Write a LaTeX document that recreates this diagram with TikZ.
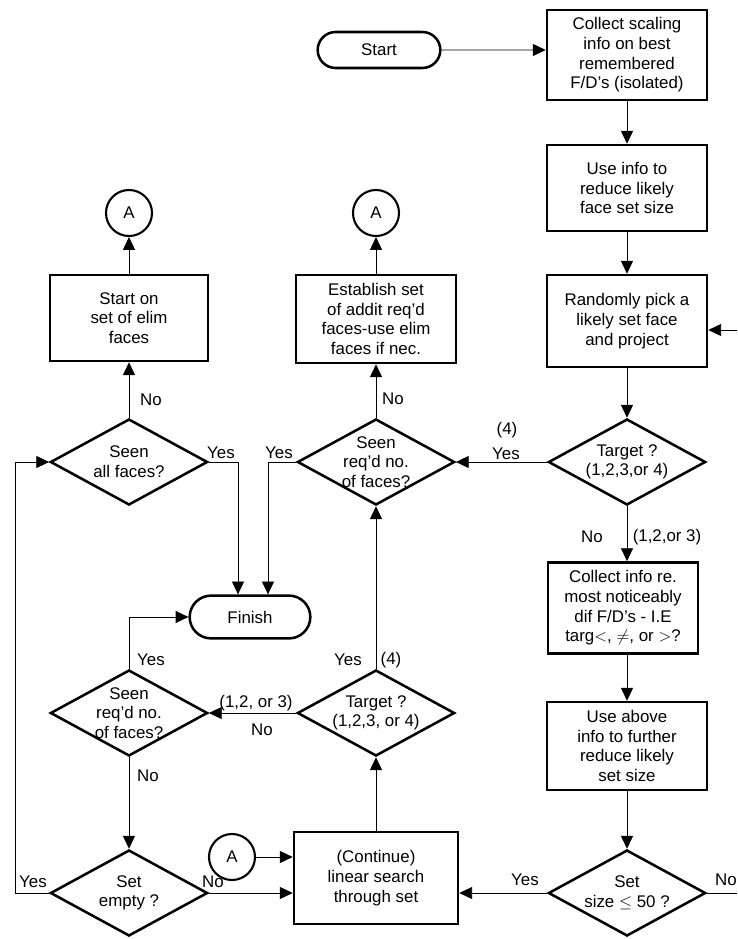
\documentclass[tikz,border=0pt]{standalone}
\usepackage{fontspec}
\setmainfont{Liberation Sans}
\usetikzlibrary{shapes.geometric,shapes.misc,arrows.meta}
\usetikzlibrary{positioning,calc}

\begin{document}
\begin{tikzpicture}[x=0.025cm, y=-0.025cm,
  font=\fontsize{12}{14}\selectfont,
  box/.style={draw, line width=1.8pt, align=center, minimum width=4cm, minimum height=2.2cm, inner sep=2pt},
  term/.style={draw, line width=1.8pt, rounded rectangle, minimum width=3.3cm, minimum height=0.9cm},
  decision/.style={draw, line width=1.8pt, diamond, inner sep=0pt, minimum width=3.93cm, minimum height=2.15cm},
  dtext/.style={align=center, inner sep=0pt},
  joint/.style={draw, circle, line width=1.5pt, minimum size=1.15cm, inner sep=0pt},
  conn/.style={draw, line width=0.6pt},
  flow/.style={conn, -{Triangle[length=3.2mm, width=3mm]}},
  lbl/.style={inner sep=0pt}]
\useasboundingbox (0,0) rectangle (737,939);

% right column
\node[term] (start) at (379,50) {Start};
\node[box, minimum height=2.25cm] (scaling) at (627,55) {Collect scaling\\info on best\\remembered\\F/D's (isolated)};
\node[box, minimum height=2.15cm] (useinfo) at (627,188) {Use info to\\reduce likely\\face set size};
\node[box, minimum height=2.3cm] (pick) at (627,321) {Randomly pick a\\likely set face\\and project};
\node[decision, label={[dtext]center:{Target ?\\(1,2,3,or 4)}}] (targetR) at (627,462) {};
\node[box, minimum width=3.75cm, minimum height=2.28cm] (collect) at (623,608) {Collect info re.\\most noticeably\\dif F/D's - I.E\\targ$<$, $\neq$, or $>$?};
\node[box] (useabove) at (627,746) {Use above\\info to further\\reduce likely\\set size};
\node[decision, label={[dtext]center:{Set\\size $\leq$ 50 ?}}] (setsize) at (627,893) {};

% middle column
\node[joint] (aMid) at (376,213) {A};
\node[box, minimum height=2.2cm] (establish) at (376,319) {Establish set\\of addit req'd\\faces-use elim\\faces if nec.};
\node[decision, label={[dtext]center:{Seen\\req'd no.\\of faces?}}] (seenR) at (376,462) {};
\node[term, minimum width=3.25cm, minimum height=1.07cm] (finish) at (250,617) {Finish};
\node[decision, label={[dtext]center:{Target ?\\(1,2,3, or 4)}}] (targetM) at (376,713) {};
\node[box, minimum width=4.1cm, minimum height=2.3cm] (continue) at (376,878) {(Continue)\\linear search\\through set};
\node[joint] (aLow) at (232,857) {A};

% left column
\node[joint] (aLeft) at (129,213) {A};
\node[box, minimum width=3.95cm, minimum height=2.15cm] (startelim) at (129,318) {Start on\\set of elim\\faces};
\node[decision, label={[dtext]center:{Seen\\all faces?}}] (seenall) at (129,462) {};
\node[decision, label={[dtext]center:{Seen\\req'd no.\\of faces?}}] (seenL) at (129,713) {};
\node[decision, label={[dtext]center:{Set\\empty ?}}] (setempty) at (129,893) {};

\coordinate (noIn) at (737,330);
\coordinate (noOut) at (737,893);
\coordinate (loop) at (15,893);

% connectors
\draw[flow] (start) -- (start -| scaling.west);
\draw[flow] (scaling) -- (scaling |- useinfo.north);
\draw[flow] (useinfo) -- (useinfo |- pick.north);
\draw[flow] (noIn) -- (noIn -| pick.east);
\draw[flow] (pick) -- (pick |- targetR.north);
\draw[flow] (targetR) -- (targetR |- collect.north);
\draw[flow] (useabove |- collect.south) -- (useabove |- useabove.north);
\draw[flow] (useabove) -- (useabove |- setsize.north);
\draw[flow] (setsize) -- (setsize -| continue.east);
\draw[conn] (setsize) -- (noOut);
\draw[flow] (targetR) -- (seenR);
\draw[flow] (seenR) -- (establish);
\draw[flow] (establish) -- (aMid);
\draw[flow] (seenR.west) -| ($(finish.north)+(18,0)$);
\draw[flow] (seenall) -- (startelim);
\draw[flow] (startelim) -- (aLeft);
\draw[flow] (seenall.east) -| ($(finish.north)+(-12,0)$);
\draw[flow] (continue) -- (targetM);
\draw[flow] (targetM) -- (seenR);
\draw[flow] (targetM) -- (seenL);
\draw[flow] (seenL.north) |- (finish.west);
\draw[flow] (seenL) -- (setempty);
\draw[flow] (setempty.west) -- (loop) |- (seenall.west);
\draw[flow] (setempty.east) -- (setempty.east -| continue.west);
\draw[flow] (aLow) -- (aLow -| continue.west);

% branch labels
\node[lbl] (noA) at (151,400) {No};
\node[lbl] (yesA) at (221,453) {Yes};
\node[lbl] (yesB) at (279,453) {Yes};
\node[lbl] (noB) at (393,399) {No};
\node[lbl] (fourR) at (507,430) {(4)};
\node[lbl] (yesR) at (506,454) {Yes};
\node[lbl] (noR) at (592,537) {No};
\node[lbl] (otherR) at (667,537) {(1,2,or 3)};
\node[lbl] (yesC) at (151,660) {Yes};
\node[lbl] (yesM) at (348,660) {Yes};
\node[lbl] (fourM) at (391,660) {(4)};
\node[lbl] (otherM) at (256,703) {(1,2, or 3)};
\node[lbl] (noM) at (262,730) {No};
\node[lbl] (noC) at (148,776) {No};
\node[lbl] (yesE) at (33,882) {Yes};
\node[lbl] (noE) at (213,882) {No};
\node[lbl] (yesS) at (525,880) {Yes};
\node[lbl] (noS) at (726,880) {No};
\end{tikzpicture}
\end{document}
